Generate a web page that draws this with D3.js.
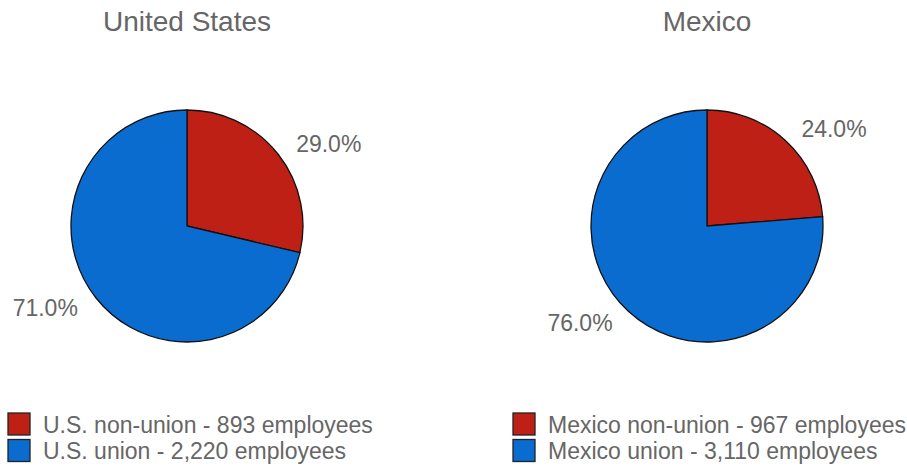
<!doctype html>
<html>
<head>
<meta charset="utf-8"/>
<script src="https://cdnjs.cloudflare.com/ajax/libs/d3/7.8.5/d3.min.js"></script>
<style>
  body { margin: 0; background: #fff; }
  text { font-family: "Liberation Sans", Arial, sans-serif; fill: #666; }
</style>
</head>
<body>
<svg id="chart" width="907" height="466"></svg>
<script>
// data
var countries = ["United States", "Mexico"];
var categories = ["non-union", "union"];
var usValues = [893, 2220];
var mxValues = [967, 3110];
var pctLabels = [["29.0%", "71.0%"], ["24.0%", "76.0%"]];
var legendLabels = [
  ["U.S. non-union - 893 employees", "U.S. union - 2,220 employees"],
  ["Mexico non-union - 967 employees", "Mexico union - 3,110 employees"]
];
var colors = ["#be2016", "#0a6ccf"];

var svg = d3.select("#chart");
var radius = 116;
var centers = [[187, 226], [707, 226]];
var legendX = [8, 513];

var pie = d3.pie().sort(null).value(function(d) { return d; });
var arc = d3.arc().innerRadius(0).outerRadius(radius);
var labelArc = d3.arc().innerRadius(radius * 1.2).outerRadius(radius * 1.2);

[usValues, mxValues].forEach(function(vals, i) {
  var g = svg.append("g")
    .attr("transform", "translate(" + centers[i][0] + "," + centers[i][1] + ")");

  var arcs = pie(vals);

  g.selectAll("path")
    .data(arcs)
    .enter().append("path")
    .attr("d", arc)
    .attr("fill", function(d, j) { return colors[j]; })
    .attr("stroke", "#111")
    .attr("stroke-width", 1.3);

  // labels sit a bit flatter than a true circle
  g.selectAll("text.pct")
    .data(arcs)
    .enter().append("text")
    .attr("class", "pct")
    .attr("transform", function(d) {
      var c = labelArc.centroid(d);
      return "translate(" + c[0] + "," + (c[1] * 0.95) + ")";
    })
    .attr("dy", "0.35em")
    .attr("text-anchor", function(d) {
      return (d.startAngle + d.endAngle) / 2 < Math.PI ? "start" : "end";
    })
    .style("font-size", "23px")
    .text(function(d, j) { return pctLabels[i][j]; });

  svg.append("text")
    .attr("x", centers[i][0])
    .attr("y", 31)
    .attr("text-anchor", "middle")
    .style("font-size", "28px")
    .text(countries[i]);

  var leg = svg.append("g")
    .attr("transform", "translate(" + legendX[i] + ",413)");

  categories.forEach(function(c, j) {
    leg.append("rect")
      .attr("x", 0)
      .attr("y", j * 26.5)
      .attr("width", 22)
      .attr("height", 22)
      .attr("fill", colors[j])
      .attr("stroke", "#222")
      .attr("stroke-width", 1.3);
    leg.append("text")
      .attr("x", 35)
      .attr("y", j * 26.5 + 19.5)
      .style("font-size", "23px")
      .text(legendLabels[i][j]);
  });
});
</script>
</body>
</html>
